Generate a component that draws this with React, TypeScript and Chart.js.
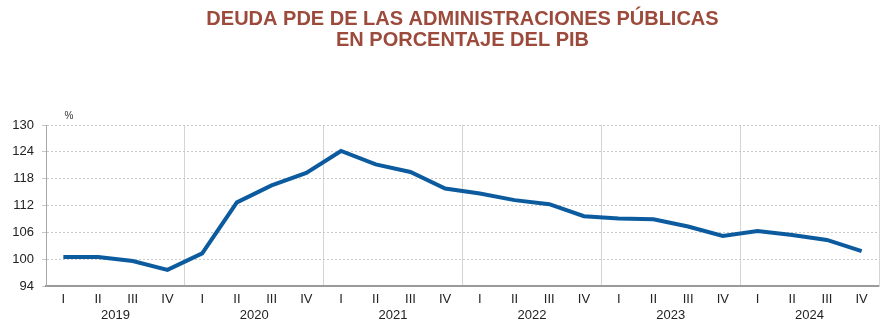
import React, { useEffect, useRef } from "react";
import { Chart, registerables } from "chart.js";

Chart.register(...registerables);

const TITLE_LINES = ["DEUDA PDE DE LAS ADMINISTRACIONES PÚBLICAS", "EN PORCENTAJE DEL PIB"];
const YEARS = ["2019", "2020", "2021", "2022", "2023", "2024"];
const QUARTERS = ["I", "II", "III", "IV"];
const CATEGORIES = YEARS.flatMap((y) => QUARTERS.map((q) => `${q} ${y}`));
const QUARTER_LABELS = YEARS.flatMap(() => QUARTERS);
const DEBT_VALUES = [
  100.5, 100.5, 99.6, 97.6,
  101.3, 112.7, 116.5, 119.3,
  124.2, 121.2, 119.5, 115.8,
  114.7, 113.2, 112.3, 109.6,
  109.1, 108.9, 107.3, 105.2,
  106.3, 105.4, 104.3, 101.8,
];
const Y_TICKS = [94, 100, 106, 112, 118, 124, 130];
const UNIT_LABEL = "%";

const FONT = "'Liberation Sans', Arial, sans-serif";

const decorPlugin = {
  id: "decor",
  afterDraw(chart: any) {
    const { ctx, chartArea, scales } = chart;
    const x = scales.x;
    ctx.save();
    // title
    ctx.fillStyle = "#9c4a3c";
    ctx.font = `bold 20px ${FONT}`;
    ctx.textAlign = "center";
    ctx.textBaseline = "middle";
    const cx = (chartArea.left + chartArea.right) / 2;
    ctx.fillText(TITLE_LINES[0], cx, 19);
    ctx.fillText(TITLE_LINES[1], cx, 40);
    // unit
    ctx.fillStyle = "#333";
    ctx.font = `10px ${FONT}`;
    ctx.textAlign = "center";
    ctx.fillText(UNIT_LABEL, chartArea.left + 23, chartArea.top - 9);
    // years
    ctx.font = `13px ${FONT}`;
    ctx.fillStyle = "#222";
    YEARS.forEach((y, i) => {
      const p = (x.getPixelForValue(i * 4 + 1) + x.getPixelForValue(i * 4 + 2)) / 2;
      ctx.fillText(y, p, chartArea.bottom + 29);
    });
    ctx.restore();
  },
};

export default function App() {
  const ref = useRef<HTMLCanvasElement>(null);
  useEffect(() => {
    document.body.style.margin = "0";
    const chart = new Chart(ref.current!, {
      type: "line",
      data: {
        labels: CATEGORIES,
        datasets: [
          {
            data: DEBT_VALUES,
            borderColor: "#0b5b9e",
            borderWidth: 4,
            pointRadius: 0,
            tension: 0,
            fill: false,
          },
        ],
      },
      options: {
        animation: false,
        responsive: false,
        layout: { padding: { top: 125, right: 15, left: 12, bottom: 0 } },
        plugins: { legend: { display: false }, title: { display: false }, tooltip: { enabled: false } },
        scales: {
          x: {
            type: "category",
            offset: true,
            afterFit: (s: any) => {
              s.height = 40;
            },
            grid: {
              offset: true,
              drawTicks: false,
              color: (c: any) => (c.index > 0 && c.index % 4 === 0 ? "#d4d4d4" : "transparent"),
              lineWidth: 1,
            },
            border: { color: "#9a9a9a", width: 2 },
            ticks: {
              padding: 6,
              color: "#222",
              font: { family: FONT, size: 13 },
              maxRotation: 0,
              autoSkip: false,
              callback: (_v: any, i: number) => QUARTER_LABELS[i],
            },
          },
          y: {
            min: Y_TICKS[0],
            max: Y_TICKS[Y_TICKS.length - 1],
            afterFit: (s: any) => {
              s.width = 34;
            },
            afterBuildTicks: (s: any) => {
              s.ticks = Y_TICKS.map((v) => ({ value: v }));
            },
            grid: { color: "#c8c8c8", lineWidth: 1, tickLength: 4 },
            border: { color: "#a8a8a8", width: 1, dash: [2, 2] },
            ticks: {
              padding: 8,
              color: "#222",
              font: { family: FONT, size: 13 },
            },
          },
          yRight: {
            position: "right",
            min: Y_TICKS[0],
            max: Y_TICKS[Y_TICKS.length - 1],
            afterFit: (s: any) => {
              s.width = 0;
            },
            grid: { display: false },
            ticks: { display: false },
            border: { color: "#d4d4d4", width: 1 },
          },
        },
      },
      plugins: [decorPlugin],
    } as any);
    return () => chart.destroy();
  }, []);
  return (
    <div style={{ width: 894, height: 326 }}>
      <canvas ref={ref} width={894} height={326} />
    </div>
  );
}
